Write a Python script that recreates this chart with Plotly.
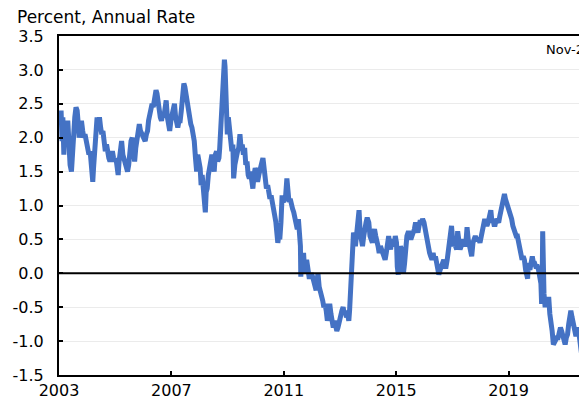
import plotly.graph_objects as go

# Readings of the series (date, percent)
dates = [
    "2003-01-02","2003-01-15","2003-01-28","2003-02-10","2003-02-20","2003-03-05","2003-03-20","2003-04-10","2003-04-25","2003-05-10","2003-05-25","2003-06-12","2003-06-25","2003-07-10","2003-07-25","2003-08-10","2003-08-25","2003-09-05","2003-09-20","2003-10-05","2003-10-20","2003-11-05","2003-11-20","2003-12-05","2003-12-20",
    "2004-01-10","2004-01-25","2004-02-10","2004-02-25","2004-03-15","2004-03-25","2004-04-10","2004-04-25","2004-05-10","2004-05-25","2004-06-10","2004-06-25","2004-07-10","2004-07-25","2004-08-10","2004-08-25","2004-09-10","2004-09-25","2004-10-10","2004-10-25","2004-11-10","2004-11-25","2004-12-10","2004-12-25",
    "2005-01-10","2005-01-25","2005-02-08","2005-02-20","2005-03-10","2005-03-25","2005-04-10","2005-04-25","2005-05-10","2005-05-25","2005-06-10","2005-06-25","2005-07-10","2005-07-25","2005-08-10","2005-08-25","2005-09-10","2005-09-25","2005-10-10","2005-10-25","2005-11-10","2005-11-25","2005-12-10","2005-12-25",
    "2006-01-10","2006-01-25","2006-02-10","2006-02-25","2006-03-10","2006-03-25","2006-04-10","2006-04-25","2006-05-10","2006-05-25","2006-06-15","2006-06-28","2006-07-10","2006-07-25","2006-08-10","2006-08-25","2006-09-10","2006-09-25","2006-10-10","2006-10-25","2006-11-10","2006-11-25","2006-12-10","2006-12-25",
    "2007-01-10","2007-01-25","2007-02-10","2007-02-25","2007-03-10","2007-03-25","2007-04-10","2007-04-25","2007-05-10","2007-05-25","2007-06-12","2007-06-25","2007-07-10","2007-07-25","2007-08-10","2007-08-25","2007-09-10","2007-09-25","2007-10-10","2007-10-25","2007-11-10","2007-11-25","2007-12-10","2007-12-25",
    "2008-01-10","2008-01-22","2008-02-05","2008-02-20","2008-03-05","2008-03-17","2008-03-28","2008-04-10","2008-04-25","2008-05-10","2008-05-25","2008-06-10","2008-06-25","2008-07-10","2008-07-25","2008-08-10","2008-08-25","2008-09-10","2008-09-20","2008-10-05","2008-10-15","2008-10-25","2008-11-10","2008-11-20","2008-11-28","2008-12-05","2008-12-15","2008-12-28",
    "2009-01-10","2009-01-25","2009-02-10","2009-02-25","2009-03-10","2009-03-20","2009-04-05","2009-04-20","2009-05-10","2009-05-25","2009-06-10","2009-06-25","2009-07-10","2009-07-25","2009-08-10","2009-08-25","2009-09-10","2009-09-25","2009-10-10","2009-10-25","2009-11-10","2009-11-25","2009-12-10","2009-12-25",
    "2010-01-10","2010-01-25","2010-02-10","2010-02-25","2010-03-10","2010-03-25","2010-04-05","2010-04-20","2010-05-05","2010-05-20","2010-06-05","2010-06-20","2010-07-05","2010-07-20","2010-08-05","2010-08-20","2010-09-05","2010-09-20","2010-10-05","2010-10-15","2010-10-28","2010-11-10","2010-11-25","2010-12-10","2010-12-25",
    "2011-01-10","2011-01-25","2011-02-10","2011-02-25","2011-03-10","2011-03-25","2011-04-10","2011-04-25","2011-05-10","2011-05-25","2011-06-10","2011-06-25","2011-07-10","2011-07-25","2011-08-05","2011-08-10","2011-08-20","2011-09-05","2011-09-15","2011-09-25","2011-10-10","2011-10-25","2011-11-10","2011-11-25","2011-12-10","2011-12-25",
    "2012-01-10","2012-01-25","2012-02-10","2012-02-25","2012-03-10","2012-03-20","2012-04-05","2012-04-20","2012-05-05","2012-05-20","2012-06-05","2012-06-20","2012-07-05","2012-07-20","2012-08-05","2012-08-20","2012-09-05","2012-09-20","2012-10-05","2012-10-20","2012-11-05","2012-11-20","2012-12-05","2012-12-20",
    "2013-01-10","2013-01-25","2013-02-10","2013-02-25","2013-03-10","2013-03-25","2013-04-10","2013-04-25","2013-05-05","2013-05-15","2013-05-25","2013-06-05","2013-06-15","2013-06-25","2013-07-05","2013-07-20","2013-08-05","2013-08-20","2013-09-05","2013-09-20","2013-10-05","2013-10-20","2013-11-05","2013-11-20","2013-12-05","2013-12-20",
    "2014-01-10","2014-01-25","2014-02-10","2014-02-25","2014-03-10","2014-03-25","2014-04-10","2014-04-25","2014-05-10","2014-05-25","2014-06-10","2014-06-25","2014-07-10","2014-07-25","2014-08-10","2014-08-25","2014-09-10","2014-09-25","2014-10-10","2014-10-20","2014-11-05","2014-11-20","2014-12-05","2014-12-20",
    "2015-01-05","2015-01-15","2015-01-28","2015-02-10","2015-02-25","2015-03-10","2015-03-20","2015-04-05","2015-04-20","2015-05-05","2015-05-20","2015-06-10","2015-06-25","2015-07-10","2015-07-25","2015-08-10","2015-08-25","2015-09-10","2015-09-25","2015-10-10","2015-10-25","2015-11-10","2015-11-25","2015-12-10","2015-12-28",
    "2016-01-10","2016-01-25","2016-02-10","2016-02-25","2016-03-10","2016-03-25","2016-04-10","2016-04-25","2016-05-10","2016-05-25","2016-06-10","2016-06-25","2016-07-08","2016-07-25","2016-08-10","2016-08-25","2016-09-10","2016-09-25","2016-10-10","2016-10-25","2016-11-10","2016-11-25","2016-12-10","2016-12-20",
    "2017-01-10","2017-01-25","2017-02-10","2017-02-25","2017-03-10","2017-03-25","2017-04-10","2017-04-25","2017-05-10","2017-05-25","2017-06-10","2017-06-25","2017-07-10","2017-07-25","2017-08-10","2017-08-25","2017-09-08","2017-09-25","2017-10-10","2017-10-25","2017-11-10","2017-11-25","2017-12-10","2017-12-25",
    "2018-01-10","2018-01-25","2018-02-10","2018-02-25","2018-03-10","2018-03-25","2018-04-10","2018-04-25","2018-05-15","2018-05-30","2018-06-10","2018-06-25","2018-07-10","2018-07-25","2018-08-10","2018-08-25","2018-09-10","2018-09-25","2018-10-10","2018-10-25","2018-11-08","2018-11-20","2018-12-05","2018-12-20",
    "2019-01-10","2019-01-25","2019-02-10","2019-02-25","2019-03-10","2019-03-25","2019-04-10","2019-04-25","2019-05-10","2019-05-25","2019-06-10","2019-06-25","2019-07-10","2019-07-25","2019-08-10","2019-08-25","2019-09-05","2019-09-15","2019-10-05","2019-10-20","2019-11-05","2019-11-20","2019-12-05","2019-12-20",
    "2020-01-10","2020-01-25","2020-02-10","2020-02-25","2020-03-05","2020-03-10","2020-03-19","2020-03-25","2020-04-05","2020-04-20","2020-05-05","2020-05-20","2020-06-05","2020-06-20","2020-07-05","2020-07-20","2020-08-05","2020-08-20","2020-09-05","2020-09-20","2020-10-05","2020-10-20","2020-11-05","2020-11-20","2020-12-05","2020-12-20",
    "2021-01-05","2021-01-20","2021-02-05","2021-02-20","2021-03-05","2021-03-20","2021-04-05","2021-04-20","2021-05-05","2021-05-20","2021-06-05","2021-06-20","2021-07-05","2021-07-20","2021-08-05","2021-08-20","2021-09-05","2021-09-20","2021-10-05","2021-10-20","2021-11-05","2021-11-20",
]

values = [
    2.35,2.20,2.40,1.95,2.30,1.75,2.25,2.05,2.25,1.85,1.60,1.50,1.80,2.05,2.30,2.45,2.40,2.25,2.00,2.15,2.25,2.10,2.00,2.05,1.95,
    1.85,1.75,1.80,1.60,1.35,1.55,1.95,2.10,2.30,2.20,2.30,2.15,2.05,2.10,1.85,1.80,1.90,1.75,1.70,1.65,1.75,1.80,1.70,1.65,
    1.70,1.55,1.45,1.65,1.85,1.95,1.75,1.70,1.65,1.55,1.50,1.60,1.85,1.95,2.00,1.80,1.65,1.85,1.95,2.05,2.20,2.10,2.05,2.05,
    2.00,1.95,2.05,2.10,2.25,2.35,2.45,2.50,2.45,2.55,2.70,2.65,2.50,2.40,2.30,2.25,2.35,2.30,2.50,2.55,2.30,2.15,2.10,2.25,
    2.35,2.45,2.50,2.30,2.15,2.15,2.25,2.25,2.40,2.55,2.80,2.75,2.65,2.45,2.40,2.25,2.20,2.15,2.05,1.95,1.70,1.50,1.75,1.65,
    1.55,1.30,1.45,1.25,1.10,0.90,1.20,1.25,1.45,1.55,1.70,1.75,1.65,1.50,1.75,1.80,1.65,1.70,1.85,2.20,2.60,2.90,2.95,3.15,3.05,2.70,2.30,2.05,
    2.30,2.05,1.95,1.80,1.90,1.40,1.60,1.75,1.80,1.85,2.05,1.85,1.90,1.75,1.85,1.60,1.65,1.45,1.40,1.50,1.35,1.25,1.45,1.55,
    1.50,1.35,1.45,1.50,1.55,1.65,1.70,1.55,1.45,1.25,1.30,1.20,1.10,1.15,1.00,0.95,0.85,0.75,0.60,0.45,0.55,0.50,0.75,1.15,1.05,
    1.10,1.15,1.40,1.15,1.05,1.10,1.05,0.95,0.90,0.80,0.70,0.65,0.80,0.60,0.40,-0.05,0.15,0.05,0.30,0.10,0.00,0.20,0.05,-0.05,-0.05,0.00,
    -0.05,-0.15,-0.20,-0.25,-0.10,0.00,-0.20,-0.25,-0.30,-0.40,-0.50,-0.45,-0.55,-0.70,-0.60,-0.45,-0.60,-0.75,-0.80,-0.70,-0.80,-0.85,-0.80,-0.70,
    -0.60,-0.55,-0.50,-0.60,-0.55,-0.65,-0.60,-0.70,-0.55,-0.35,-0.05,0.10,0.35,0.60,0.55,0.40,0.65,0.80,0.93,0.60,0.45,0.40,0.55,0.70,0.75,0.82,
    0.75,0.55,0.50,0.45,0.60,0.65,0.55,0.50,0.40,0.30,0.40,0.35,0.30,0.25,0.20,0.30,0.50,0.55,0.40,0.35,0.50,0.45,0.40,0.55,
    0.45,0.10,-0.02,0.25,0.40,0.35,0.05,0.00,0.15,0.45,0.55,0.62,0.55,0.50,0.55,0.60,0.65,0.75,0.65,0.60,0.70,0.78,0.75,0.80,0.75,
    0.65,0.55,0.40,0.35,0.30,0.25,0.20,0.30,0.20,0.25,0.15,0.05,-0.02,0.05,0.10,0.15,0.20,0.10,0.10,0.20,0.35,0.55,0.60,0.70,
    0.40,0.45,0.40,0.35,0.62,0.45,0.35,0.40,0.50,0.45,0.40,0.45,0.68,0.50,0.40,0.35,0.25,0.45,0.50,0.55,0.50,0.50,0.50,0.45,
    0.55,0.65,0.80,0.80,0.75,0.70,0.75,0.85,0.93,0.75,0.80,0.72,0.72,0.80,0.75,0.75,0.85,0.95,1.05,1.10,1.17,1.10,1.05,0.95,
    0.90,0.85,0.80,0.70,0.65,0.55,0.55,0.55,0.45,0.35,0.30,0.20,0.25,0.20,0.05,-0.05,-0.08,0.15,0.05,0.15,0.25,0.15,0.15,0.10,
    0.10,0.05,-0.05,-0.15,-0.45,-0.40,0.62,-0.05,-0.30,-0.50,-0.40,-0.45,-0.35,-0.60,-0.70,-0.85,-1.05,-1.00,-1.00,-0.95,-0.95,-0.85,-0.80,-0.85,-0.95,-1.00,
    -1.05,-0.95,-0.90,-0.75,-0.60,-0.55,-0.65,-0.75,-0.85,-0.90,-0.90,-0.80,-0.90,-1.05,-1.18,-1.10,-1.05,-0.95,-0.90,-0.90,-1.05,-1.10,
]

y_tick_vals = [-1.5, -1.0, -0.5, 0.0, 0.5, 1.0, 1.5, 2.0, 2.5, 3.0, 3.5]
y_tick_text = ["-1.5", "-1.0", "-0.5", "0.0", "0.5", "1.0", "1.5", "2.0", "2.5", "3.0", "3.5"]
x_tick_vals = ["2003-01-01", "2007-01-01", "2011-01-01", "2015-01-01", "2019-01-01"]
x_tick_text = ["2003", "2007", "2011", "2015", "2019"]
unit_label = "Percent, Annual Rate"
last_obs_label = "Nov-21"

FONT = "DejaVu Sans"

# The page body has an 8px default margin: the figure is sized to end at the window edge.
fig = go.Figure()
fig.add_trace(go.Scatter(
    x=dates, y=values, mode="lines",
    line=dict(color="#4472C4", width=5),
    hoverinfo="skip", showlegend=False,
))

# axis line crossing at zero, drawn above the series
fig.add_shape(type="line", xref="paper", yref="y", x0=0, x1=1, y0=0, y1=0,
              line=dict(color="black", width=2), layer="above")

fig.update_layout(
    width=579, height=392,
    margin=dict(l=51, r=0, t=28, b=25, pad=0, autoexpand=False),
    paper_bgcolor="white", plot_bgcolor="white",
    font=dict(family=FONT, size=16, color="black"),
    xaxis=dict(
        type="date", automargin=False,
        range=["2003-01-01", "2021-10-16"],
        tickvals=x_tick_vals, ticktext=x_tick_text,
        ticks="inside", ticklen=4, tickwidth=1.5, tickcolor="black",
        showline=True, linecolor="black", linewidth=2, mirror=True,
        showgrid=False, zeroline=False,
        tickfont=dict(family=FONT, size=16, color="black"),
        ticklabelstandoff=0,
    ),
    yaxis=dict(
        automargin=False,
        range=[-1.5, 3.5],
        tickvals=y_tick_vals, ticktext=y_tick_text,
        ticks="inside", ticklen=4, tickwidth=1.5, tickcolor="black",
        showline=True, linecolor="black", linewidth=2, mirror=False,
        showgrid=True, gridcolor="#ebebeb", gridwidth=1,
        zeroline=False,
        tickfont=dict(family=FONT, size=16, color="black"),
        ticklabelstandoff=10,
    ),
    annotations=[
        dict(text=unit_label, xref="paper", yref="paper",
             x=(15 - 59) / 528, y=(374.7 - 17) / 339,
             xanchor="left", yanchor="middle", showarrow=False,
             font=dict(family=FONT, size=17, color="black")),
        dict(text=last_obs_label, xref="paper", yref="paper",
             x=(544 - 59) / 528, y=(374.7 - 49) / 339,
             xanchor="left", yanchor="middle", showarrow=False,
             font=dict(family=FONT, size=13, color="black")),
    ],
)

fig.write_html("out.html", config={"displayModeBar": False})
